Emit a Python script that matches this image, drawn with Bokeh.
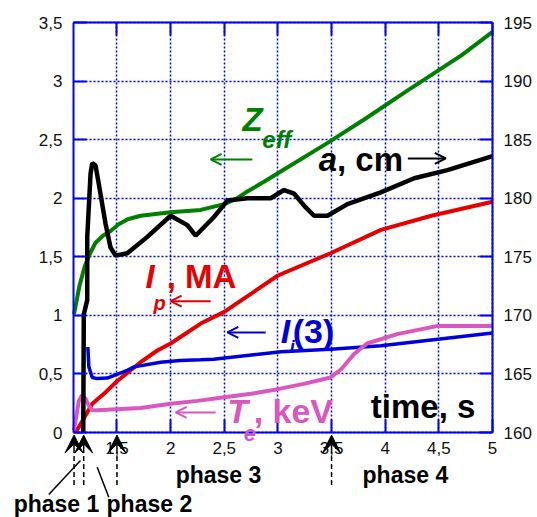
from bokeh.plotting import figure
from bokeh.models import (Range1d, LinearAxis, FixedTicker, Label, Arrow,
                          OpenHead, VeeHead, CustomJSTickFormatter)
from bokeh.embed import file_html
from bokeh.resources import INLINE

# Effective charge Z_eff (left axis)
t_zeff = [1.10, 1.15, 1.20, 1.25, 1.30, 1.37, 1.44, 1.52, 1.60, 1.72, 2.00, 2.28,
          2.50, 2.62, 2.72, 2.87, 3.03, 3.46, 3.80, 4.21, 4.71, 5.00]
zeff = [1.01, 1.25, 1.42, 1.53, 1.62, 1.68, 1.72, 1.78, 1.82, 1.85, 1.88, 1.90,
        1.95, 2.00, 2.06, 2.14, 2.23, 2.47, 2.67, 2.92, 3.22, 3.42]

# Minor radius a, cm (right axis)
t_a = [1.186, 1.191, 1.223, 1.223, 1.254, 1.270, 1.300, 1.331, 1.394, 1.440, 1.487,
       1.596, 1.783, 2.000, 2.156, 2.233, 2.404, 2.529, 2.715, 2.933, 3.057, 3.150,
       3.250, 3.337, 3.462, 3.648, 3.959, 4.270, 4.580, 5.000]
a_cm = [160.0, 170.1, 171.3, 176.7, 182.1, 183.0, 182.8, 181.2, 177.8, 175.8, 175.1,
        175.3, 176.7, 178.5, 177.7, 176.8, 178.4, 179.8, 180.0, 180.0, 180.7, 180.4,
        179.3, 178.5, 178.5, 179.5, 180.5, 181.7, 182.4, 183.6]

# Plasma current I_p, MA (left axis)
t_ip = [1.114, 1.16, 1.27, 1.378, 1.503, 1.72, 1.876, 2.00, 2.28, 2.50, 3.00, 3.49,
        3.96, 4.43, 5.00]
ip = [0.00, 0.07, 0.245, 0.33, 0.44, 0.60, 0.70, 0.76, 0.93, 1.03, 1.34, 1.53,
      1.73, 1.85, 1.97]

# Internal inductance l_i(3) (left axis)
t_li = [1.229, 1.238, 1.27, 1.316, 1.41, 1.596, 1.66, 1.907, 2.09, 2.28, 2.40, 3.03,
        3.49, 3.96, 5.00]
li = [0.73, 0.56, 0.47, 0.46, 0.465, 0.53, 0.56, 0.60, 0.615, 0.62, 0.625, 0.69,
      0.71, 0.74, 0.85]

# Electron temperature T_e, keV (left axis)
t_te = [1.098, 1.114, 1.145, 1.176, 1.207, 1.238, 1.27, 1.316, 1.72, 2.00, 2.25,
        2.50, 2.75, 3.00, 3.24, 3.49, 3.59, 3.71, 3.83, 4.11, 4.49, 5.00]
te = [0.02, 0.10, 0.27, 0.32, 0.29, 0.23, 0.19, 0.19, 0.21, 0.245, 0.27,
      0.30, 0.33, 0.37, 0.415, 0.47, 0.54, 0.67, 0.76, 0.84, 0.91, 0.91]

# Axis ticks
x_ticks = [1.5, 2, 2.5, 3, 3.5, 4, 4.5, 5]
left_ticks = [0, 0.5, 1, 1.5, 2, 2.5, 3, 3.5]
right_ticks = [160, 165, 170, 175, 180, 185, 190, 195]

# Phase boundaries, s
phase_marks = [1.10, 1.19, 1.50, 3.50]

BLUE = "#0000FF"
GREEN = "#008000"
RED = "#E60000"
CURVE_BLUE = "#0000DD"
MAGENTA = "#D957BE"
FONT = "Liberation Sans"

# Axes box: time 1.095..5 s, left scale 0..3.5, right scale 160..195 cm
T0, T1 = 1.095, 5.0
Y0, Y1 = 0.0, 3.5
A0, A1 = 160.0, 195.0
W, H = 537, 517
BOX_LEFT, BOX_RIGHT, BOX_TOP, BOX_BOTTOM = 73, 492, 22, 432   # canvas pixels
KX = (BOX_RIGHT - BOX_LEFT) / (T1 - T0)
KY = (BOX_BOTTOM - BOX_TOP) / (Y1 - Y0)
A_PER_Y = (A1 - A0) / (Y1 - Y0)

# The plotting frame covers the whole canvas so that the phase markers and
# captions around the axes box are drawn; every axis is pinned to the box.
x_lo, x_hi = T0 - BOX_LEFT / KX, T1 + (W - BOX_RIGHT) / KX
y_lo, y_hi = Y0 - (H - BOX_BOTTOM) / KY, Y1 + BOX_TOP / KY

p = figure(width=W, height=H, x_range=Range1d(x_lo, x_hi), y_range=Range1d(y_lo, y_hi),
           output_backend="svg", toolbar_location=None,
           min_border=0, min_border_left=0, min_border_right=0,
           min_border_top=0, min_border_bottom=0)
p.extra_y_ranges = {"a": Range1d(A0 + A_PER_Y * (y_lo - Y0), A0 + A_PER_Y * (y_hi - Y0))}
p.background_fill_color = "white"
p.border_fill_color = "white"
p.outline_line_color = None

comma = CustomJSTickFormatter(code="return String(tick).replace('.', ',');")


def style_axis(ax, ticks, show_labels=True):
    ax.ticker = FixedTicker(ticks=ticks)
    ax.axis_line_color = BLUE
    ax.axis_line_width = 2
    ax.major_tick_line_color = BLUE
    ax.major_tick_line_width = 2
    ax.major_tick_in = 13
    ax.major_tick_out = 0
    ax.minor_tick_line_color = None
    ax.major_label_text_font = FONT
    ax.major_label_text_color = "#111111"
    if show_labels:
        ax.formatter = comma
        ax.major_label_text_font_size = "17px"
        ax.major_label_standoff = 10
    else:
        ax.formatter = CustomJSTickFormatter(code="return '';")
        ax.major_label_text_font_size = "1px"
        ax.major_label_standoff = 0


xaxis = p.xaxis[0]
style_axis(xaxis, x_ticks)
xaxis.fixed_location = Y0
xaxis.bounds = (T0, T1)
xaxis.major_label_standoff = 9

yaxis = p.yaxis[0]
style_axis(yaxis, left_ticks)
yaxis.fixed_location = T0
yaxis.bounds = (Y0, Y1)
yaxis.major_label_standoff = 11

right_axis = LinearAxis(y_range_name="a", fixed_location=T1, bounds=(A0, A1))
style_axis(right_axis, right_ticks)
right_axis.major_label_standoff = 11
p.add_layout(right_axis, "right")

top_axis = LinearAxis(fixed_location=Y1, bounds=(T0, T1))
style_axis(top_axis, x_ticks, show_labels=False)
p.add_layout(top_axis, "above")

p.grid.grid_line_color = BLUE
p.grid.grid_line_dash = "2 2"
p.grid.grid_line_width = 1.5
p.xgrid[0].cross_bounds = (Y0, Y1)
p.ygrid[0].cross_bounds = (T0, T1)

# Curves
p.line(t_zeff, zeff, line_color=GREEN, line_width=4)
p.line(t_ip, ip, line_color=RED, line_width=4)
p.line(t_li, li, line_color=CURVE_BLUE, line_width=3.5)
p.line(t_te, te, line_color=MAGENTA, line_width=4)
p.line(t_a, a_cm, line_color="black", line_width=4.5, y_range_name="a")


def label(x, y, text, color, size, style="bold"):
    # y is the text baseline; lift by the font's descent so the glyphs sit on it
    lift = 0.33 * size / KY
    p.add_layout(Label(x=x, y=y + lift, text=text, text_color=color, text_font=FONT,
                       text_font_size=f"{size}px", text_font_style=style,
                       text_baseline="alphabetic", text_align="left"))


def pointer(x0, x1, y, color):
    p.add_layout(Arrow(x_start=x0, y_start=y, x_end=x1, y_end=y, line_color=color,
                       line_width=2,
                       end=OpenHead(size=11, line_color=color, line_width=2)))


# Curve captions
label(2.669, 2.579, "Z", GREEN, 33, "bold italic")
label(2.855, 2.43, "eff", GREEN, 24, "bold italic")
pointer(2.762, 2.373, 2.331, GREEN)

label(3.381, 2.237, "a", "black", 33, "bold italic")
label(3.551, 2.237, ", cm", "black", 33)
pointer(4.211, 4.565, 2.34, "black")

label(1.767, 1.238, "I", RED, 33, "bold italic")
label(1.841, 1.046, "p", RED, 20, "bold italic")
label(1.963, 1.238, ", MA", RED, 33)
pointer(2.373, 2.0, 1.121, RED)

label(3.026, 0.771, "I", CURVE_BLUE, 34, "bold italic")
label(3.11, 0.683, "i", CURVE_BLUE, 18, "bold italic")
label(3.138, 0.771, "(3)", CURVE_BLUE, 34)
pointer(2.886, 2.529, 0.854, CURVE_BLUE)

label(2.529, 0.088, "T", MAGENTA, 34, "bold italic")
label(2.681, -0.068, "e", MAGENTA, 22, "bold italic")
label(2.774, 0.088, ", keV", MAGENTA, 34)
pointer(2.42, 2.047, 0.171, MAGENTA)

label(3.866, 0.128, "time, s", "black", 33)

# Phase markers below the time axis
for tm in phase_marks:
    p.add_layout(Arrow(x_start=tm, y_start=-0.175, x_end=tm, y_end=-0.022,
                       line_color="black", line_width=1.5,
                       end=VeeHead(size=18, fill_color="black", line_color="black")))
    p.add_layout(Arrow(x_start=tm, y_start=-0.2, x_end=tm, y_end=-0.46,
                       line_color="black", line_width=1.5, line_dash="5 3", end=None))

# Leader lines from the first two phase captions
p.add_layout(Arrow(x_start=0.865, y_start=-0.529, x_end=1.16, y_end=-0.239,
                   line_color="black", line_width=1.5, end=None))
p.add_layout(Arrow(x_start=1.316, y_start=-0.296, x_end=1.424, y_end=-0.553,
                   line_color="black", line_width=1.5, end=None))

label(0.537, -0.675, "phase 1", "black", 23)
label(1.403, -0.675, "phase 2", "black", 23)
label(2.047, -0.424, "phase 3", "black", 23)
label(3.789, -0.424, "phase 4", "black", 23)

open("out.html", "w").write(file_html(p, INLINE))
